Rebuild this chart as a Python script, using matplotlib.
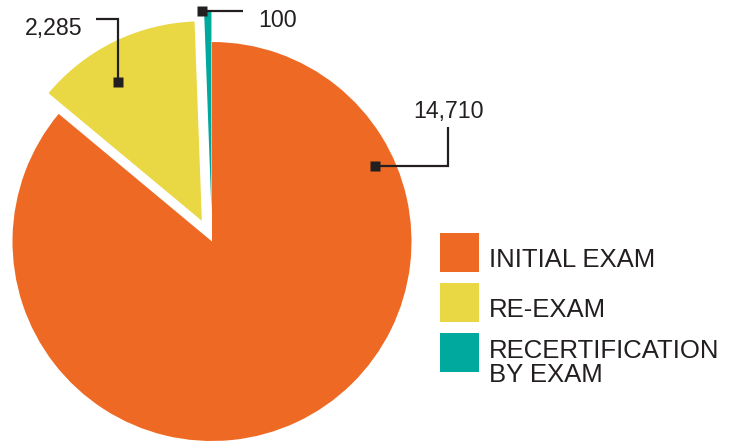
import matplotlib
matplotlib.use('Agg')
import matplotlib.pyplot as plt
from matplotlib.patches import Rectangle

# ---- data ----
categories = ['INITIAL EXAM', 'RE-EXAM', 'RECERTIFICATION\nBY EXAM']
values = [14710, 2285, 100]
colors = ['#EE6A24', '#E9D843', '#00A99D']

TEXT = '#231F20'
FONT = ['Liberation Sans', 'DejaVu Sans']

W, H = 736, 443
fig = plt.figure(figsize=(W / 100, H / 100), dpi=100)
ax = fig.add_axes([0, 0, 1, 1])


def Y(py):
    return H - py


ax.pie(values, colors=colors, startangle=90, counterclock=False,
       radius=199.5, center=(212, Y(241.5)), explode=[0, 23, 31],
       wedgeprops=dict(linewidth=0), frame=False)
ax.set_xlim(0, W)
ax.set_ylim(0, H)
ax.set_aspect('auto')
ax.axis('off')

# ---- leader lines + value labels (pixel layout) ----
leaders = [
    # orange
    dict(path=[(448, 127), (448, 165.5), (374.5, 165.5)],
         text=(448.5, 118.3), ha='center'),
    # yellow
    dict(path=[(96, 18.5), (117.5, 18.5), (117.5, 81.5)],
         text=(83, 34.5), ha='right'),
    # teal
    dict(path=[(243, 11.3), (202.3, 11.3)],
         text=(258, 26.7), ha='left'),
]
for v, ld in zip(values, leaders):
    xs = [p[0] for p in ld['path']]
    ys = [Y(p[1]) for p in ld['path']]
    ax.plot(xs, ys, color=TEXT, lw=1.6, solid_capstyle='butt',
            solid_joinstyle='miter')
    ax.plot(xs[-1], ys[-1], marker='s', ms=7.8, color=TEXT, mec='none')
    ax.text(ld['text'][0], Y(ld['text'][1]), f"{v:,}", ha=ld['ha'],
            va='baseline', fontsize=16.7, color=TEXT, family=FONT)

# ---- legend ----
sq_x, sq_top0, sq_size, step = 440, 233, 39, 50
# baseline of the last line of each label
baselines = [267.3, 317.3, 382.3]
for i, (cat, col) in enumerate(zip(categories, colors)):
    top = sq_top0 + step * i
    ax.add_patch(Rectangle((sq_x, Y(top + sq_size)), sq_size, sq_size,
                           facecolor=col, edgecolor='none'))
    ax.text(489, Y(baselines[i]), cat, ha='left', va='baseline',
            fontsize=18.5, color=TEXT, family=FONT, linespacing=1.0)

fig.savefig('out.png', dpi=100)
